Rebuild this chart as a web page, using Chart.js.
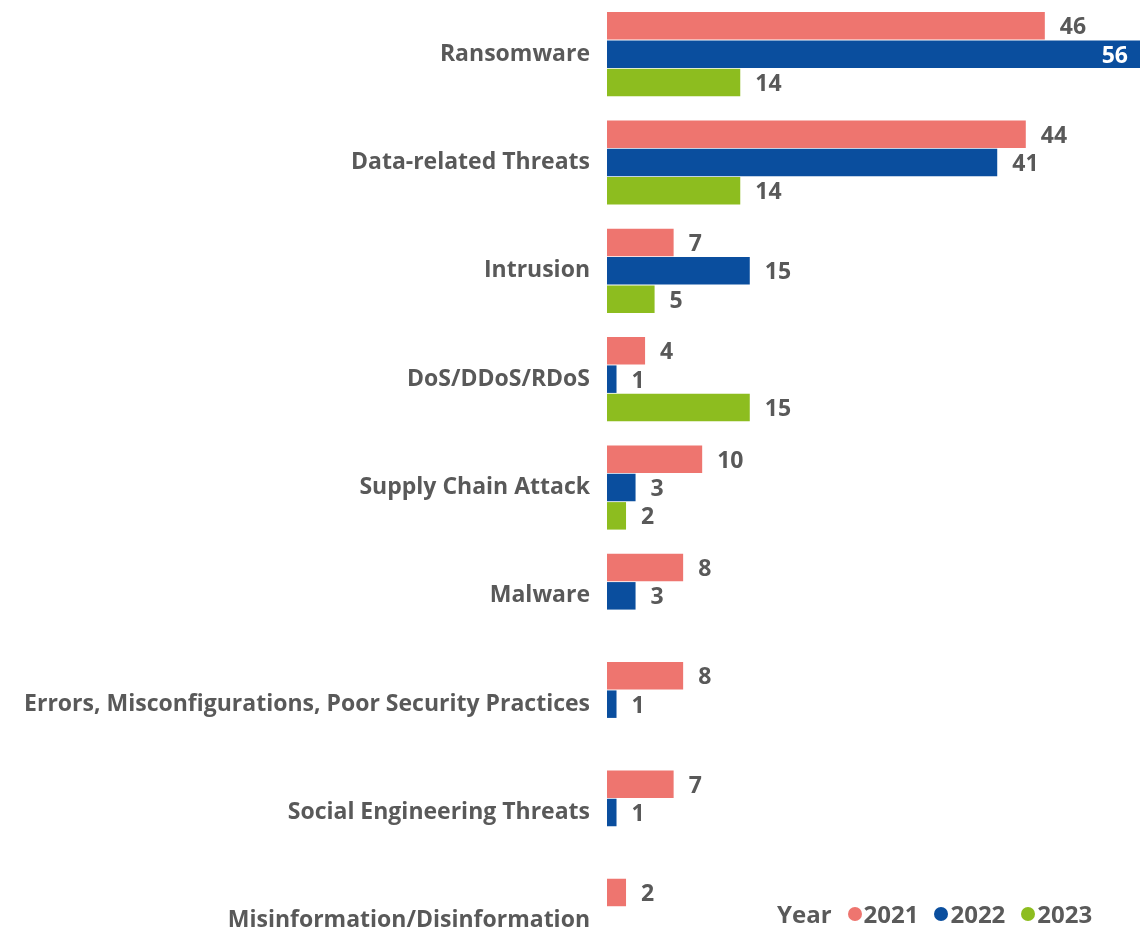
<!DOCTYPE html>
<html>
<head>
<meta charset="utf-8">
<script src="https://cdn.jsdelivr.net/npm/chart.js@4/dist/chart.umd.min.js"></script>
<style>
  html, body { margin: 0; padding: 0; background: #fff; overflow: hidden; width: 1140px; height: 929px; }
  #wrap { position: absolute; left: 0; top: 0; width: 1140px; height: 975px; }
  #legend { position: absolute; left: 777px; top: 897px; font-family: "Open Sans", sans-serif; font-weight: 700; font-size: 24px; color: #5a5a5a; display: flex; align-items: center; white-space: nowrap; }
  #legend .item { display: flex; align-items: center; margin-left: 16px; }
  #legend .dot { width: 14px; height: 14px; border-radius: 50%; display: inline-block; margin-right: 2px; }
</style>
</head>
<body>
<div id="wrap"><canvas id="c" width="1140" height="975"></canvas></div>
<div id="legend"></div>
<script>
const categories = [
  "Ransomware",
  "Data-related Threats",
  "Intrusion",
  "DoS/DDoS/RDoS",
  "Supply Chain Attack",
  "Malware",
  "Errors, Misconfigurations, Poor Security Practices",
  "Social Engineering Threats",
  "Misinformation/Disinformation"
];
const seriesNames = ["2021", "2022", "2023"];
const values2021 = [46, 44, 7, 4, 10, 8, 8, 7, 2];
const values2022 = [56, 41, 15, 1, 3, 3, 1, 1, null];
const values2023 = [14, 14, 5, 15, 2, null, null, null, null];
const seriesColors = ["#EE756F", "#0A4E9E", "#8DBD1F"];
const legendTitle = "Year";

const FONT = '"Open Sans", sans-serif';
const TEXT = "#595959";

const labelPlugin = {
  id: "barLabels",
  afterDatasetsDraw(chart) {
    const ctx = chart.ctx;
    const area = chart.chartArea;
    ctx.save();
    ctx.font = "700 23px " + FONT;
    ctx.textBaseline = "middle";
    chart.data.datasets.forEach((ds, di) => {
      const meta = chart.getDatasetMeta(di);
      meta.data.forEach((bar, i) => {
        const v = ds.data[i];
        if (v === null || v === undefined) return;
        const txt = String(v);
        const w = ctx.measureText(txt).width;
        if (bar.x + 15 + w > area.right) {
          ctx.fillStyle = "#ffffff";
          ctx.textAlign = "right";
          ctx.fillText(txt, bar.x - 12, bar.y + 2);
        } else {
          ctx.fillStyle = TEXT;
          ctx.textAlign = "left";
          ctx.fillText(txt, bar.x + 15, bar.y + 2);
        }
      });
    });
    ctx.restore();
  }
};

const allSeries = [values2021, values2022, values2023];
new Chart(document.getElementById("c"), {
  type: "bar",
  data: {
    labels: categories,
    datasets: seriesNames.map((n, k) => ({
      label: n,
      data: allSeries[k],
      backgroundColor: seriesColors[k],
      borderWidth: 0,
      barPercentage: 0.97,
      categoryPercentage: 0.785
    }))
  },
  options: {
    indexAxis: "y",
    responsive: false,
    animation: false,
    layout: { padding: 0 },
    plugins: { legend: { display: false }, tooltip: { enabled: false } },
    scales: {
      x: { min: 0, max: 56, display: false, grid: { display: false } },
      y: {
        grid: { display: false },
        border: { display: false },
        ticks: { color: TEXT, font: { family: FONT, size: 23, weight: "700" }, padding: 9 },
        afterFit(scale) { scale.width = 607; scale.paddingTop = 0; scale.paddingBottom = 0; }
      }
    }
  },
  plugins: [labelPlugin]
});

const lg = document.getElementById("legend");
const t = document.createElement("span");
t.textContent = legendTitle;
t.style.marginRight = "0px";
lg.appendChild(t);
seriesNames.forEach((n, k) => {
  const it = document.createElement("span");
  it.className = "item";
  const d = document.createElement("span");
  d.className = "dot";
  d.style.background = seriesColors[k];
  const s = document.createElement("span");
  s.textContent = n;
  it.appendChild(d); it.appendChild(s);
  lg.appendChild(it);
});
</script>
</body>
</html>
